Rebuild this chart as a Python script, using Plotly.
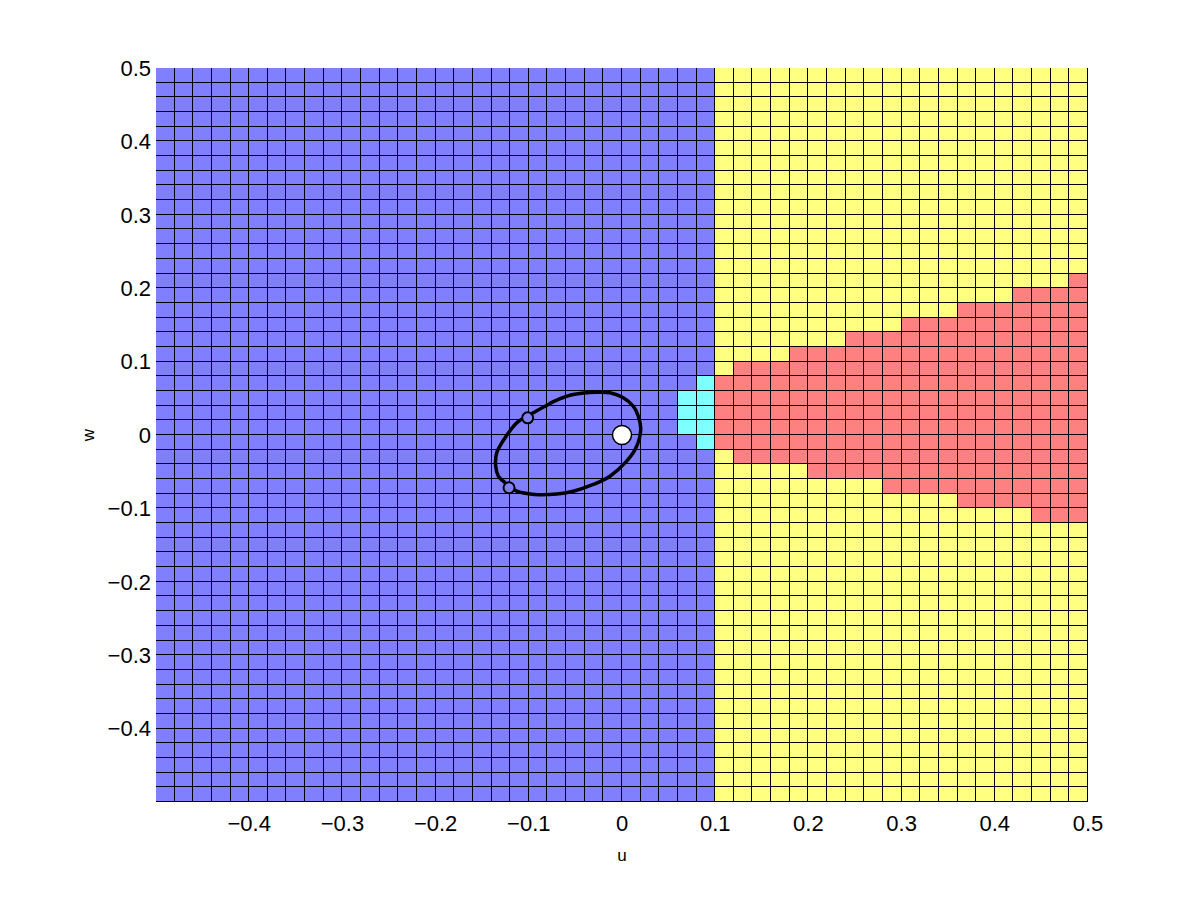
import numpy as np
import plotly.graph_objects as go

# Region map on a 0.02 x 0.02 grid of (u, w) cells, u and w in [-0.5, 0.5].
# Cells left of u = 0.1 are blue, cells right of it are yellow,
# with a red band on the right and a few cyan cells next to the boundary.
boundary_u = 0.10

# red band: lower-left u of each column, and the w extent in that column
red_u = [0.10, 0.12, 0.14, 0.16, 0.18, 0.20, 0.22, 0.24, 0.26, 0.28,
         0.30, 0.32, 0.34, 0.36, 0.38, 0.40, 0.42, 0.44, 0.46, 0.48]
red_w_low = [-0.02, -0.04, -0.04, -0.04, -0.04, -0.06, -0.06, -0.06, -0.06, -0.08,
             -0.08, -0.08, -0.08, -0.10, -0.10, -0.10, -0.10, -0.12, -0.12, -0.12]
red_w_high = [0.08, 0.10, 0.10, 0.10, 0.12, 0.12, 0.12, 0.14, 0.14, 0.14,
              0.16, 0.16, 0.16, 0.18, 0.18, 0.18, 0.20, 0.20, 0.20, 0.22]

# cyan cells (lower-left corners)
cyan_u = [0.08, 0.06, 0.06, 0.06, 0.08, 0.08, 0.08, 0.08]
cyan_w = [0.06, 0.04, 0.02, 0.00, 0.04, 0.02, 0.00, -0.02]

# closed trajectory
orbit_u = [-0.0271, -0.0129, 0.0014, 0.0121, 0.0175, 0.0201, 0.0150, 0.0050,
           -0.0129, -0.0308, -0.0523, -0.0700, -0.0933, -0.1130, -0.1274, -0.1327,
           -0.1355, -0.1344, -0.1250, -0.1130, -0.0941, -0.0826, -0.0683, -0.0523,
           -0.0271]
orbit_w = [0.0583, 0.0575, 0.0507, 0.0392, 0.0256, 0.0075, -0.0175, -0.0357,
           -0.0561, -0.0674, -0.0766, -0.0805, -0.0811, -0.0766, -0.0629, -0.0561,
           -0.0425, -0.0243, -0.0030, 0.0166, 0.0311, 0.0392, 0.0484, 0.0552,
           0.0583]

# small markers on the trajectory
mark_u = [-0.1012, -0.1212]
mark_w = [0.0234, -0.0719]

# equilibrium point
eq_u = [0.0]
eq_w = [0.0]

tick_vals = [-0.4, -0.3, -0.2, -0.1, 0.0, 0.1, 0.2, 0.3, 0.4, 0.5]
tick_text = ["\u22120.4", "\u22120.3", "\u22120.2", "\u22120.1", "0",
             "0.1", "0.2", "0.3", "0.4", "0.5"]

BLUE = "#8080ff"
CYAN = "#80ffff"
YELLOW = "#ffff80"
RED = "#ff8080"
FONT = "Liberation Sans, Arial, sans-serif"

n = 50
cell = 0.02


def idx(v):
    return int(round((v + 0.5) / cell))


z = np.zeros((n, n))
z[:, idx(boundary_u):] = 2
for u, lo, hi in zip(red_u, red_w_low, red_w_high):
    z[idx(lo):idx(hi), idx(u)] = 3
for u, w in zip(cyan_u, cyan_w):
    z[idx(w), idx(u)] = 1

fig = go.Figure()

fig.add_trace(
    go.Heatmap(
        z=z,
        x0=-0.5 + cell / 2,
        dx=cell,
        y0=-0.5 + cell / 2,
        dy=cell,
        zmin=-0.5,
        zmax=3.5,
        colorscale=[
            [0.0, BLUE], [0.25, BLUE],
            [0.25, CYAN], [0.5, CYAN],
            [0.5, YELLOW], [0.75, YELLOW],
            [0.75, RED], [1.0, RED],
        ],
        showscale=False,
        xgap=1,
        ygap=1,
        hoverinfo="skip",
    )
)

fig.add_trace(
    go.Scatter(
        x=orbit_u,
        y=orbit_w,
        mode="lines",
        line=dict(color="black", width=3.5, shape="spline", smoothing=1.0),
        showlegend=False,
    )
)

fig.add_trace(
    go.Scatter(
        x=mark_u,
        y=mark_w,
        mode="markers",
        marker=dict(symbol="circle", size=11, color=BLUE, line=dict(color="black", width=2)),
        showlegend=False,
    )
)

fig.add_trace(
    go.Scatter(
        x=eq_u,
        y=eq_w,
        mode="markers",
        marker=dict(size=19, color="white", line=dict(color="black", width=1.5)),
        showlegend=False,
    )
)

axis_common = dict(
    range=[-0.5, 0.5],
    tickvals=tick_vals,
    ticktext=tick_text,
    showgrid=False,
    zeroline=False,
    showline=False,
    ticks="",
    tickfont=dict(family=FONT, size=22, color="black"),
)

fig.update_layout(
    width=1185,
    height=885,
    margin=dict(l=148, r=105, t=60, b=91),
    paper_bgcolor="white",
    plot_bgcolor="black",
    showlegend=False,
    xaxis=dict(
        **axis_common,
        ticklabelstandoff=6,
        title=dict(text="u", font=dict(family=FONT, size=17, color="black"), standoff=14),
    ),
    yaxis=dict(
        **axis_common,
        ticklabelstandoff=4,
        title=dict(text="w", font=dict(family=FONT, size=17, color="black"), standoff=8),
    ),
)

fig.write_html("out.html")
